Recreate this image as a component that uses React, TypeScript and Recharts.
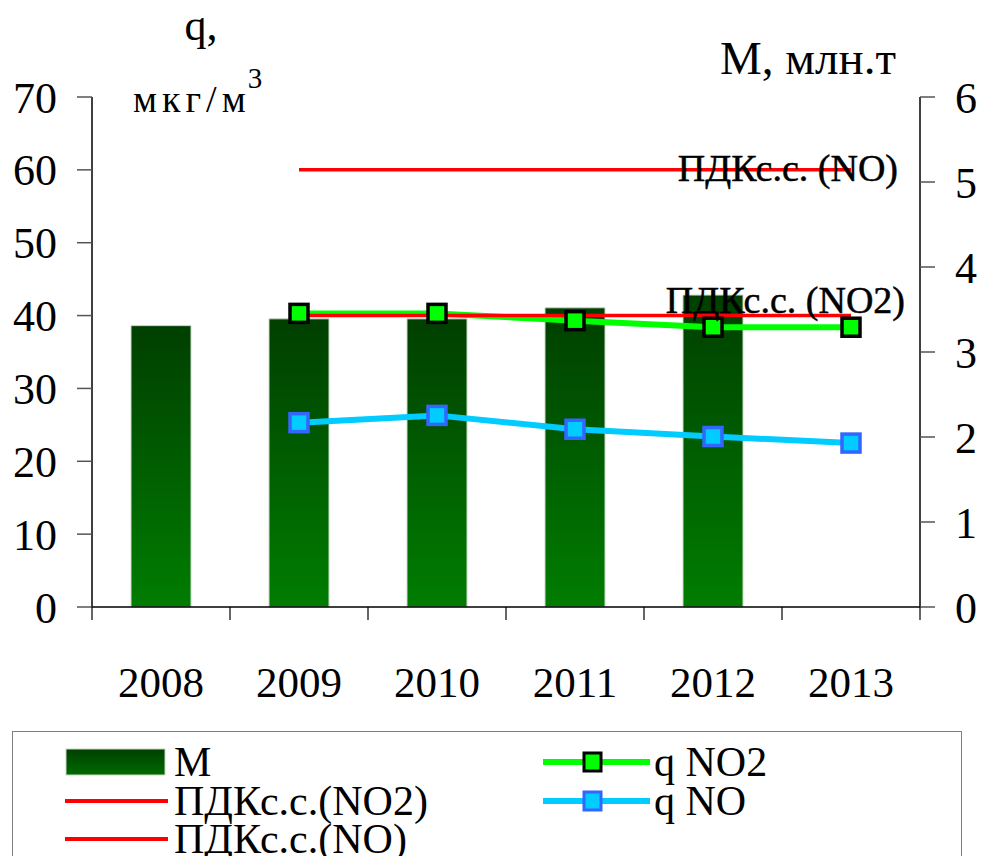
import React from "react";
import {
  ComposedChart,
  Bar,
  Line,
  XAxis,
  YAxis,
  LabelList,
} from "recharts";

const years = ["2008", "2009", "2010", "2011", "2012", "2013"];
const mValues = [3.31, 3.39, 3.39, 3.52, 3.67, null];
const qNO2 = [null, 40.3, 40.3, 39.3, 38.4, 38.4];
const qNO = [null, 25.3, 26.3, 24.4, 23.4, 22.5];
const pdkNO2 = [null, 40, 40, 40, 40, 40];
const pdkNO = [null, 60, 60, 60, 60, 60];
const leftTicks = [0, 10, 20, 30, 40, 50, 60, 70];
const rightTicks = [0, 1, 2, 3, 4, 5, 6];

const data = years.map((y, i) => ({
  year: y,
  m: mValues[i],
  qNO2: qNO2[i],
  qNO: qNO[i],
  pdkNO2: pdkNO2[i],
  pdkNO: pdkNO[i],
}));

const FONT = "'Liberation Serif', 'Times New Roman', serif";
const X_TICK = 13;
const X_GAP = 46;

const YearTick = (props: any) => {
  const { x, y, payload, index } = props;
  const half = payload && payload.offset ? payload.offset : 69;
  const top = y - X_GAP - X_TICK;
  return (
    <g>
      <line x1={x - half} y1={top} x2={x - half} y2={top + X_TICK} stroke="#000" strokeWidth={1.2} />
      {index === years.length - 1 && (
        <line x1={x + half} y1={top} x2={x + half} y2={top + X_TICK} stroke="#000" strokeWidth={1.2} />
      )}
      <text x={x} y={y} dy="0.71em" textAnchor="middle" fontSize={43} fontFamily={FONT} fill="#000">
        {payload.value}
      </text>
    </g>
  );
};

const squareDot = (fill: string, border: string) => (p: any) => {
  if (p.value == null || p.cy == null) return <g key={p.index} />;
  return (
    <rect
      key={p.index}
      x={p.cx - 9}
      y={p.cy - 9}
      width={18}
      height={18}
      fill={fill}
      stroke={border}
      strokeWidth={3.5}
    />
  );
};

const endLabel = (text: string, dx: number, dy: number) => (p: any) =>
  p.index === years.length - 1 ? (
    <text
      key="lbl"
      x={p.x + dx}
      y={p.y + dy}
      textAnchor="end"
      fontSize={38}
      fontFamily={FONT}
      fill="#000"
      stroke="#000"
      strokeWidth={0.5}
    >
      {text}
    </text>
  ) : null;

const LegendRow = (props: { icon: React.ReactNode; label: string; x: number; y: number }) => (
  <div style={{ position: "absolute", left: props.x, top: props.y, height: 38, display: "flex", alignItems: "center" }}>
    <svg width={110} height={30} style={{ display: "block" }}>{props.icon}</svg>
    <span style={{ fontFamily: FONT, fontSize: 42, lineHeight: "38px", marginLeft: 4, whiteSpace: "nowrap" }}>
      {props.label}
    </span>
  </div>
);

export default function App() {
  return (
    <div style={{ position: "absolute", left: 0, top: 0, width: 986, height: 856, background: "#fff", overflow: "hidden" }}>
      <ComposedChart
        width={986}
        height={856}
        data={data}
        margin={{ top: 97, right: 0, left: 0, bottom: 149 }}
      >
        <defs>
          <linearGradient id="barGrad" x1="0" y1="0" x2="0" y2="1">
            <stop offset="0%" stopColor="#003f00" />
            <stop offset="100%" stopColor="#007d00" />
          </linearGradient>
        </defs>
        <XAxis
          dataKey="year"
          height={100}
          tickLine={false}
          tickSize={X_TICK}
          tickMargin={X_GAP}
          axisLine={{ stroke: "#000", strokeWidth: 1.5 }}
          tick={<YearTick />}
          interval={0}
        />
        <YAxis
          yAxisId="left"
          width={92}
          domain={[0, 70]}
          ticks={leftTicks}
          interval={0}
          tickSize={15}
          tickMargin={20}
          axisLine={{ stroke: "#000", strokeWidth: 1.5 }}
          tickLine={{ stroke: "#555", strokeWidth: 1.5 }}
          tick={{ fontSize: 44, fontFamily: FONT, fill: "#000" }}
        />
        <YAxis
          yAxisId="right"
          orientation="right"
          width={66}
          domain={[0, 6]}
          ticks={rightTicks}
          interval={0}
          tickSize={15}
          tickMargin={20}
          axisLine={{ stroke: "#000", strokeWidth: 1.5 }}
          tickLine={{ stroke: "#555", strokeWidth: 1.5 }}
          tick={{ fontSize: 44, fontFamily: FONT, fill: "#000" }}
        />
        <Bar
          yAxisId="right"
          dataKey="m"
          name="M"
          barSize={60}
          fill="url(#barGrad)"
          stroke="#c8d8c8"
          strokeWidth={1}
          isAnimationActive={false}
        />
        <Line
          yAxisId="left"
          dataKey="pdkNO"
          name="ПДКс.с.(NO)"
          stroke="#ff0000"
          strokeWidth={3.5}
          dot={false}
          activeDot={false}
          isAnimationActive={false}
        >
          <LabelList dataKey="pdkNO" content={endLabel("ПДКс.с. (NO)", 47, 11)} />
        </Line>
        <Line
          yAxisId="left"
          dataKey="qNO2"
          name="q NO2"
          stroke="#00ff00"
          strokeWidth={6}
          dot={squareDot("#00ff00", "#000000")}
          activeDot={false}
          isAnimationActive={false}
        />
        <Line
          yAxisId="left"
          dataKey="pdkNO2"
          name="ПДКс.с.(NO2)"
          stroke="#ff0000"
          strokeWidth={3.5}
          dot={false}
          activeDot={false}
          isAnimationActive={false}
        >
          <LabelList dataKey="pdkNO2" content={endLabel("ПДКс.с. (NO2)", 54, -3)} />
        </Line>
        <Line
          yAxisId="left"
          dataKey="qNO"
          name="q NO"
          stroke="#00ccff"
          strokeWidth={6}
          dot={squareDot("#00ccff", "#3366ff")}
          activeDot={false}
          isAnimationActive={false}
        />
        <text x={201} y={40} textAnchor="middle" fontSize={44} fontFamily={FONT} fill="#000">q,</text>
        <text x={133} y={112} fontSize={38} fontFamily={FONT} fill="#000" letterSpacing={5}>
          мкг/м
          <tspan fontSize={29} dy={-24} dx={-3}>3</tspan>
        </text>
        <text x={896} y={74} textAnchor="end" fontSize={47} fontFamily={FONT} fill="#000">М, млн.т</text>
      </ComposedChart>

      <div style={{ position: "absolute", left: 12, top: 731, width: 950, height: 160, border: "1.5px solid #808080", boxSizing: "border-box" }} />
      <LegendRow
        x={60}
        y={743}
        label="M"
        icon={<rect x={6} y={2} width={99} height={26} fill="url(#legGrad)" stroke="#c8d8c8" strokeWidth={1} />}
      />
      <LegendRow
        x={60}
        y={782}
        label="ПДКс.с.(NO2)"
        icon={<line x1={5} y1={15} x2={108} y2={15} stroke="#ff0000" strokeWidth={4} />}
      />
      <LegendRow
        x={60}
        y={820}
        label="ПДКс.с.(NO)"
        icon={<line x1={5} y1={15} x2={108} y2={15} stroke="#ff0000" strokeWidth={4} />}
      />
      <LegendRow
        x={540}
        y={743}
        label="q NO2"
        icon={
          <g>
            <line x1={3} y1={15} x2={110} y2={15} stroke="#00ff00" strokeWidth={6} />
            <rect x={44} y={6} width={17} height={18} fill="#00ff00" stroke="#000" strokeWidth={3} />
          </g>
        }
      />
      <LegendRow
        x={540}
        y={782}
        label="q NO"
        icon={
          <g>
            <line x1={3} y1={15} x2={110} y2={15} stroke="#00ccff" strokeWidth={6} />
            <rect x={44} y={6} width={17} height={18} fill="#00ccff" stroke="#3366ff" strokeWidth={3} />
          </g>
        }
      />
      <svg width={0} height={0} style={{ position: "absolute" }}>
        <defs>
          <linearGradient id="legGrad" x1="0" y1="0" x2="0" y2="1">
            <stop offset="0%" stopColor="#004000" />
            <stop offset="100%" stopColor="#006a00" />
          </linearGradient>
        </defs>
      </svg>
    </div>
  );
}
